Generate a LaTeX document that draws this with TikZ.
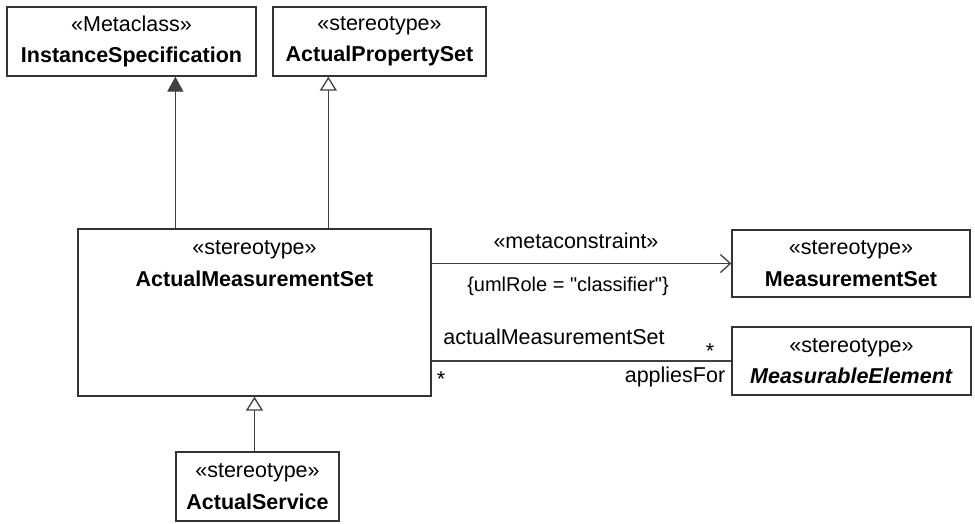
\documentclass[tikz,border=0pt]{standalone}
\usepackage{fontspec}
\setmainfont{Liberation Sans}[Ligatures=TeXOff]
\usetikzlibrary{arrows.meta, positioning}

\begin{document}
\begin{tikzpicture}[x=1pt, y=-1pt,
    font=\fontsize{21.5}{31.5}\selectfont,
    umlbox/.style={draw=black!80, line width=1.3pt, align=center, inner sep=0pt},
    conn/.style={draw=black!75, line width=1.3pt},
    gen/.style={conn, -{Triangle[open, length=14pt, width=17pt]}},
    genfill/.style={conn, -{Triangle[length=15pt, width=16pt]}},
    dep/.style={conn, -{Straight Barb[length=10pt, width=18pt]}}]
    \useasboundingbox (0,0) rectangle (975,523);
    % classes
    \node[umlbox, minimum width=249, minimum height=69] (inst) at (131.5,41.5) {«Metaclass»\\\textbf{InstanceSpecification}};
    \node[umlbox, minimum width=213, minimum height=69] (aps) at (379.5,41.5) {«stereotype»\\\textbf{ActualPropertySet}};
    \node[umlbox, minimum width=353, minimum height=167] (ams) at (254.5,312.5) {};
    \node[align=center] (amstext) at (254.5,263.5) {«stereotype»\\\textbf{ActualMeasurementSet}};
    \node[umlbox, minimum width=238, minimum height=67] (ms) at (851,263.5) {«stereotype»\\\textbf{MeasurementSet}};
    \node[umlbox, minimum width=239, minimum height=68] (me) at (851.5,361) {«stereotype»\\\textbf{\textit{MeasurableElement}}};
    \node[umlbox, minimum width=163, minimum height=69] (as) at (257.5,486.5) {«stereotype»\\\textbf{ActualService}};

    % generalizations
    \draw[genfill] (ams.north west) ++(98,0) coordinate (c1) -- (c1 |- inst.south);
    \draw[gen] (ams.north west) ++(251,0) coordinate (c2) -- (c2 |- aps.south);
    \draw[gen] (as.north -| ams.south) -- (ams.south);

    % metaconstraint
    \draw[dep] (ams.east |- ms.west) -- (ms.west);
    \node (mcon) at (576,241) {«metaconstraint»};
    \node[font=\fontsize{20}{24}\selectfont] (role) at (568,286) {\{umlRole = "classifier"\}};

    % association
    \draw[conn] (ams.east |- me.west) -- (me.west);
    \node (endname) at (554,337) {actualMeasurementSet};
    \node (multme) at (710,351) {*};
    \node (multams) at (441,379) {*};
    \node (applies) at (675,377) {appliesFor};
\end{tikzpicture}
\end{document}
